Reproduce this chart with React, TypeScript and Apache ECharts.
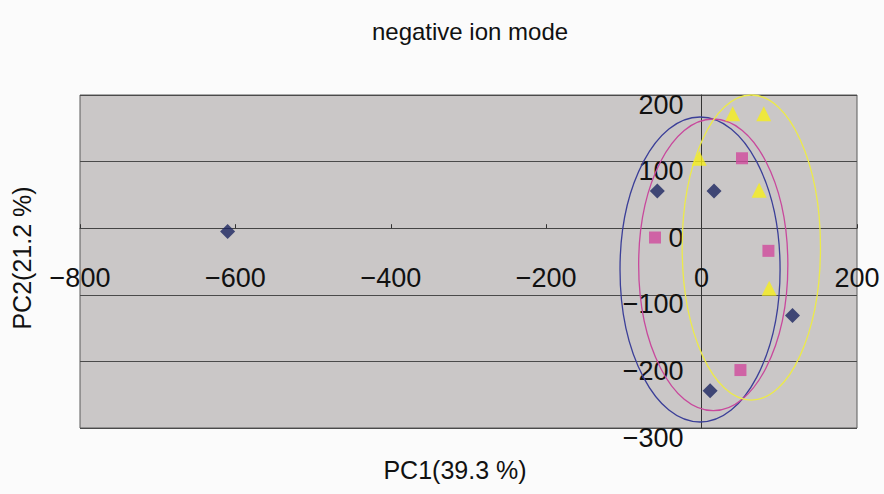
import React, { useEffect, useRef } from "react";
import * as echarts from "echarts";

const titleText = "negative ion mode";
const xAxisName = "PC1(39.3 %)";
const yAxisName = "PC2(21.2 %)";

// Group 1 (navy diamonds)
const group1: number[][] = [
  [-610, -5],
  [-57, 56],
  [16, 56],
  [117, -131],
  [11, -244],
];
// Group 2 (pink squares)
const group2: number[][] = [
  [-60, -14],
  [52, 105],
  [86, -34],
  [50, -213],
];
// Group 3 (yellow triangles)
const group3: number[][] = [
  [40, 172],
  [80, 172],
  [-3, 105],
  [74, 57],
  [87, -90],
];
// Ellipses: [centerX, centerY, radiusX, radiusY]
const ellipses: number[][] = [
  [-2, -62, 103, 229],
  [15, -55, 96, 219],
  [64, -29, 89, 229],
];
const ellipseColors = ["#3b3f98", "#c8489c", "#ecea4a"];

const X_MIN = -800;
const X_MAX = 200;
const Y_MIN = -300;
const Y_MAX = 200;

const fmt = (v: number) => String(v).replace("-", "\u2212");

export default function App() {
  const ref = useRef<HTMLDivElement>(null);
  useEffect(() => {
    if (!ref.current) return;
    const chart = echarts.init(ref.current, null, { renderer: "svg" });
    const font = "'Liberation Sans', Arial, sans-serif";
    const gridW = 777;
    const gridH = 333;
    // shift axes so they cross at the origin (labels move with them)
    const yAxisOffset = -gridW * (0 - X_MIN) / (X_MAX - X_MIN);
    const xAxisOffset = -gridH * (0 - Y_MIN) / (Y_MAX - Y_MIN);
    chart.setOption({
      animation: false,
      backgroundColor: "#fbfbfb",
      title: {
        text: titleText,
        left: 465,
        textAlign: "center",
        top: 14,
        textStyle: { fontFamily: font, fontSize: 24, fontWeight: "normal", color: "#111" },
      },
      grid: {
        left: 80,
        top: 95,
        width: gridW,
        height: gridH,
        show: true,
        backgroundColor: "#cac7c7",
        borderColor: "#5a5a5a",
        borderWidth: 1,
      },
      xAxis: {
        type: "value",
        min: X_MIN,
        max: X_MAX,
        interval: 200,
        offset: xAxisOffset,
        axisLine: { onZero: false, lineStyle: { color: "#444", width: 1 } },
        axisTick: { show: true, inside: true, length: 4, lineStyle: { color: "#333" } },
        splitLine: { show: false },
        axisLabel: {
          margin: 36,
          fontFamily: font,
          fontSize: 27,
          color: "#111",
          formatter: fmt,
        },
      },
      yAxis: {
        type: "value",
        min: Y_MIN,
        max: Y_MAX,
        interval: 100,
        offset: yAxisOffset,
        axisLine: { onZero: false, lineStyle: { color: "#333", width: 1 } },
        axisTick: { show: false },
        splitLine: { show: true, lineStyle: { color: "#4a4a4a", width: 1 } },
        axisLabel: {
          margin: 18,
          verticalAlign: "top",
          lineHeight: 19,
          fontFamily: font,
          fontSize: 27,
          color: "#111",
          formatter: fmt,
        },
      },
      graphic: [
        {
          type: "text",
          x: 455,
          y: 470,
          style: {
            text: xAxisName,
            font: `25px ${font}`,
            fill: "#111",
            textAlign: "center",
            textVerticalAlign: "middle",
          },
        },
        {
          type: "text",
          x: 22,
          y: 258,
          rotation: Math.PI / 2,
          style: {
            text: yAxisName,
            font: `25px ${font}`,
            fill: "#111",
            textAlign: "center",
            textVerticalAlign: "middle",
          },
        },
      ],
      series: [
        {
          type: "custom",
          coordinateSystem: "cartesian2d",
          data: ellipses.map((e, i) => [...e, i]),
          z: 3,
          silent: true,
          renderItem: (params: any, api: any) => {
            const c = api.coord([api.value(0), api.value(1)]);
            const s = api.size([api.value(2), api.value(3)]);
            return {
              type: "ellipse",
              shape: { cx: c[0], cy: c[1], rx: s[0], ry: s[1] },
              style: { fill: "none", stroke: ellipseColors[api.value(4)], lineWidth: 1.3 },
            };
          },
        },
        {
          type: "scatter",
          data: group1,
          symbol: "diamond",
          symbolSize: 15,
          itemStyle: { color: "#1c2560" },
          z: 4,
        },
        {
          type: "scatter",
          data: group2,
          symbol: "rect",
          symbolSize: 12,
          itemStyle: { color: "#d04a9c" },
          z: 4,
        },
        {
          type: "scatter",
          data: group3,
          symbol: "triangle",
          symbolSize: 15,
          itemStyle: { color: "#f6ef1a" },
          z: 4,
        },
      ],
    });
    return () => chart.dispose();
  }, []);
  return (
    <div
      ref={ref}
      style={{ position: "absolute", left: 0, top: 0, width: 884, height: 494 }}
    />
  );
}
